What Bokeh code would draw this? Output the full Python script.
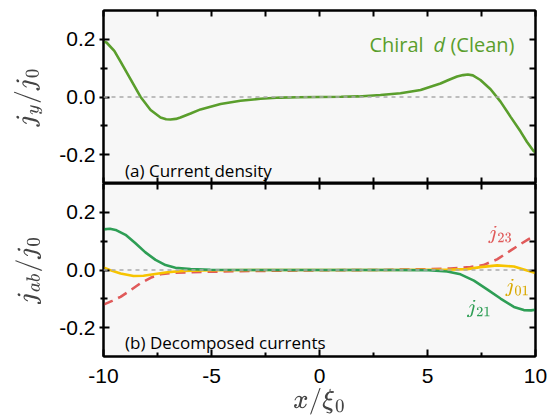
from bokeh.plotting import figure
from bokeh.layouts import column
from bokeh.models import LinearAxis, FixedTicker, Span, Label, Range1d, PrintfTickFormatter
from bokeh.embed import file_html
from bokeh.resources import INLINE

# ---- data ----
x_top = [-10, -9.86, -9.5, -9.21, -8.75, -8.29, -7.82, -7.36, -7.1, -6.90, -6.65, -6.44,
         -5.97, -5.51, -4.58, -3.66, -2.73, -1.81, -1.0, 0.0, 1.0, 1.81, 2.82, 3.75,
         4.68, 5.60, 6.0, 6.37, 6.65, 6.87, 7.1, 7.45, 7.92, 8.38, 8.84, 9.31, 9.6, 9.91, 10]
jy = [0.192, 0.189, 0.160, 0.123, 0.062, 0.001, -0.045, -0.071, -0.077, -0.078, -0.076, -0.071,
      -0.057, -0.043, -0.024, -0.013, -0.006, -0.002, -0.001, 0.0, 0.001, 0.002, 0.007, 0.013,
      0.024, 0.047, 0.060, 0.071, 0.076, 0.078, 0.075, 0.059, 0.027, -0.016, -0.068, -0.120,
      -0.155, -0.187, -0.192]

x_j21 = [-10, -9.7, -9.44, -8.98, -8.52, -8.06, -7.59, -7.13, -6.67, -5.97, -5.05, -3.0, 0.0,
         3.0, 5.05, 5.91, 6.53, 7.15, 7.76, 8.38, 9.0, 9.46, 9.8, 10]
j21 = [0.141, 0.143, 0.139, 0.122, 0.093, 0.061, 0.035, 0.017, 0.008, 0.003, 0.001, 0.0, 0.0,
       0.0, -0.001, -0.005, -0.015, -0.037, -0.067, -0.099, -0.128, -0.139, -0.140, -0.138]

x_j01 = [-10, -9.6, -9.21, -8.61, -8.15, -7.69, -7.04, -6.30, -5.0, -3.0, 0.0, 3.0, 5.0, 5.91,
         6.84, 7.45, 8.22, 9.0, 9.46, 10]
j01 = [0.009, -0.003, -0.012, -0.021, -0.020, -0.015, -0.008, -0.003, -0.001, 0.0, 0.0, 0.0,
       0.001, 0.001, 0.003, 0.010, 0.016, 0.012, 0.002, -0.010]

x_j23 = [-10, -9.6, -9.21, -8.75, -8.29, -7.82, -7.36, -6.76, -5.97, -5.05, -3.66, 0.0, 2.82,
         5.14, 6.06, 6.99, 7.59, 8.22, 8.84, 9.31, 9.7, 10]
j23 = [-0.120, -0.107, -0.093, -0.070, -0.046, -0.027, -0.015, -0.010, -0.008, -0.006, -0.004,
       -0.001, 0.0, 0.003, 0.005, 0.010, 0.017, 0.037, 0.067, 0.090, 0.108, 0.120]

x_ticks = [-10, -5, 0, 5, 10]
x_minor = [-7.5, -2.5, 2.5, 7.5]
y_ticks = [-0.2, 0.0, 0.2]
y_minor = [-0.1, 0.1]

C_TOP = "#5a9e2c"
C_J21 = "#2e9e55"
C_J23 = "#e05a5a"
C_J01 = "#f7c400"
C_J01_TXT = "#d9a900"

FONT = "Liberation Sans"
TXT = "Open Sans"


def tick_only_axis(ticks, tick_len):
    # axis that only draws inward tick marks (no labels)
    return LinearAxis(ticker=FixedTicker(ticks=[], minor_ticks=ticks),
                      major_tick_in=0, major_tick_out=0,
                      minor_tick_in=tick_len, minor_tick_out=0,
                      major_label_standoff=0,
                      axis_line_width=2, minor_tick_line_width=2)


def add_frame_ticks(p, sides_x):
    for side in sides_x:
        p.add_layout(tick_only_axis(x_ticks + x_minor, 6), side)
    p.add_layout(tick_only_axis(y_ticks + y_minor, 6), "right")


def make_fig(height, border_top, border_bottom, ylabel):
    p = figure(width=548, height=height, output_backend="svg", toolbar_location=None,
               x_range=Range1d(-10, 10), y_range=Range1d(-0.3, 0.3),
               x_axis_location=None, y_axis_location=None,
               min_border_left=103, min_border_right=13,
               min_border_top=border_top, min_border_bottom=border_bottom,
               background_fill_color="#f7f7f7", border_fill_color="white",
               outline_line_color="black", outline_line_width=2)
    p.grid.visible = False
    ya = LinearAxis(ticker=FixedTicker(ticks=y_ticks, minor_ticks=y_minor),
                    formatter=PrintfTickFormatter(format="%.1f"),
                    major_label_text_font=FONT, major_label_text_font_size="21px",
                    major_label_text_color="black",
                    major_tick_in=6, major_tick_out=4, minor_tick_in=4, minor_tick_out=3,
                    major_label_standoff=4, axis_line_width=2,
                    major_tick_line_width=2, minor_tick_line_width=2,
                    axis_label=ylabel, axis_label_standoff=14,
                    axis_label_text_font_size="22px", axis_label_text_font_style="normal")
    p.add_layout(ya, "left")
    p.add_layout(Span(location=0, dimension="width", line_color="#aaaaaa",
                      line_dash="4 4", line_width=1.5))
    return p


# ---- top panel ----
p1 = make_fig(183, 10, 0, r"$$j_y/j_0$$")
add_frame_ticks(p1, ["above", "below"])
p1.line(x_top, jy, line_color=C_TOP, line_width=2.6)

p1.add_layout(Label(x=2.31, y=0.181, text="Chiral", text_color=C_TOP,
                    text_font=TXT, text_font_size="20px", text_baseline="alphabetic"))
p1.add_layout(Label(x=5.28, y=0.181, text="d", text_color=C_TOP, text_font=TXT,
                    text_font_style="italic", text_font_size="20px", text_baseline="alphabetic"))
p1.add_layout(Label(x=6.06, y=0.181, text="(Clean)", text_color=C_TOP,
                    text_font=TXT, text_font_size="20px", text_baseline="alphabetic"))
p1.add_layout(Label(x=-9.0, y=-0.254, text="(a) Current density", text_color="black",
                    text_font=TXT, text_font_size="17px", text_baseline="alphabetic"))

# ---- bottom panel ----
p2 = make_fig(235, 0, 62, r"$$j_{ab}/j_0$$")
add_frame_ticks(p2, ["above"])
xa = LinearAxis(ticker=FixedTicker(ticks=x_ticks, minor_ticks=x_minor),
                formatter=PrintfTickFormatter(format="%d"),
                major_label_text_font=FONT, major_label_text_font_size="21px",
                major_label_text_color="black",
                major_tick_in=7, major_tick_out=0, minor_tick_in=4, minor_tick_out=0,
                axis_line_width=2, major_tick_line_width=2, minor_tick_line_width=2,
                major_label_standoff=12,
                axis_label=r"$$x/\xi_0$$", axis_label_text_font_size="22px",
                axis_label_standoff=2)
p2.add_layout(xa, "below")

p2.line(x_j23, j23, line_color=C_J23, line_width=2.6, line_dash="10 6")
p2.line(x_j01, j01, line_color=C_J01, line_width=2.6)
p2.line(x_j21, j21, line_color=C_J21, line_width=2.6)

p2.add_layout(Label(x=8.38, y=0.121, text=r"$$j_{23}$$", text_color=C_J23,
                    text_font_size="17px", text_align="center", text_baseline="middle"))
p2.add_layout(Label(x=9.17, y=-0.063, text=r"$$j_{01}$$", text_color=C_J01_TXT,
                    text_font_size="17px", text_align="center", text_baseline="middle"))
p2.add_layout(Label(x=7.4, y=-0.136, text=r"$$j_{21}$$", text_color=C_J21,
                    text_font_size="17px", text_align="center", text_baseline="middle"))
p2.add_layout(Label(x=-9.0, y=-0.25, text="(b) Decomposed currents", text_color="black",
                    text_font=TXT, text_font_size="17px", text_baseline="alphabetic"))

layout = column(p1, p2, spacing=0)
open("out.html", "w").write(file_html(layout, INLINE))
